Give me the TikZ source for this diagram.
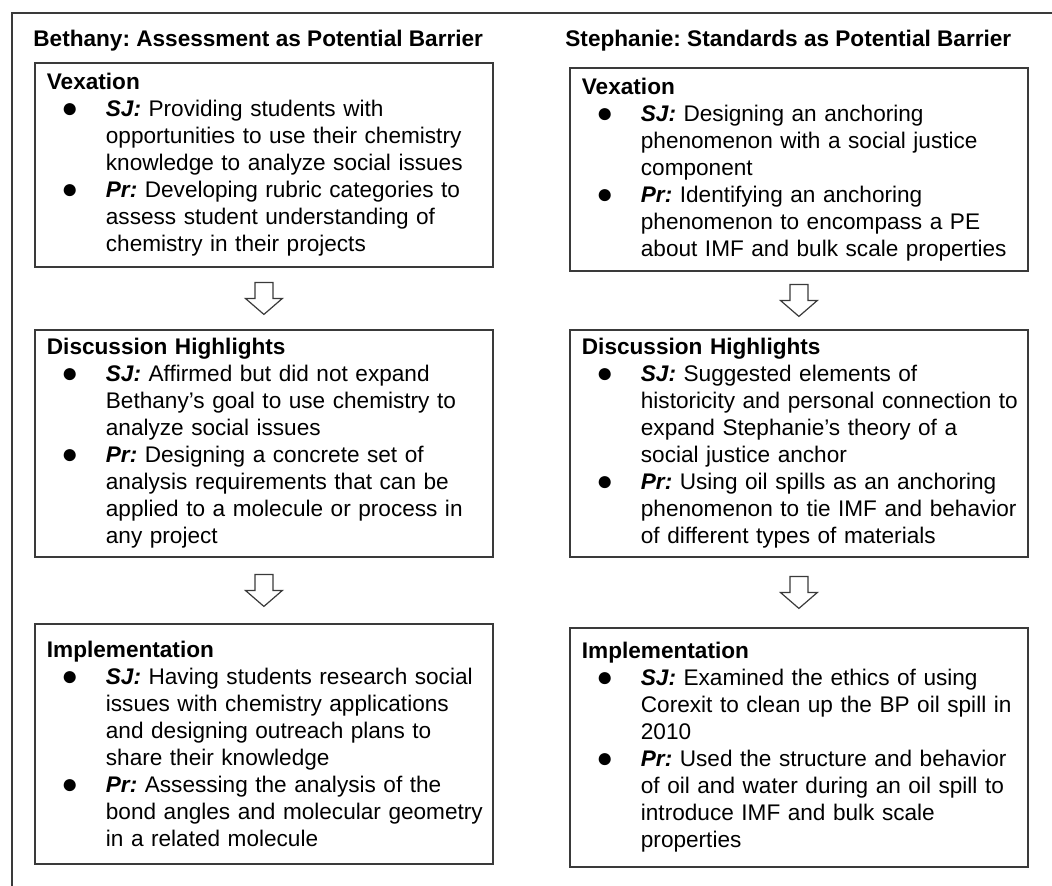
\documentclass[tikz,border=0pt]{standalone}
\usepackage{fontspec}
\setmainfont{Liberation Sans}
\usetikzlibrary{calc}

\definecolor{boxline}{HTML}{3A3A3A}
\frenchspacing

% bullet lists inside the stage boxes
\newcommand{\pointmark}{\raisebox{-0.4pt}{\fontsize{14pt}{14pt}\selectfont ●}}
\newcommand{\who}[1]{\textbf{\textit{#1:}}}
\newcommand{\stagehead}[1]{\textbf{#1}\par}
\newenvironment{points}{\begin{list}{\pointmark}{%
    \setlength{\leftmargin}{29.5pt}\setlength{\labelwidth}{29.5pt}%
    \setlength{\labelsep}{0pt}\setlength{\rightmargin}{-30pt}%
    \setlength{\topsep}{0pt}\setlength{\partopsep}{0pt}%
    \setlength{\itemsep}{0pt}\setlength{\parsep}{0pt}%
    \renewcommand{\makelabel}[1]{\hspace*{7.2pt}##1\hfil}}}{\end{list}}

\begin{document}
\begin{tikzpicture}[x=0.5pt, y=-0.5pt,
    stage/.style={draw=boxline, line width=0.9pt, anchor=north west, inner xsep=6pt, inner ysep=2pt,
      text width=217pt, minimum height=#1, font=\fontsize{11.3pt}{13.5pt}\selectfont},
    banner/.style={anchor=base west, inner sep=0pt, font=\fontsize{11.3pt}{13.5pt}\selectfont\bfseries},
    gaparrow/.pic={\draw[boxline, line width=0.6pt] (-4.5pt,8pt) -- (4.5pt,8pt) -- (4.5pt,0pt) -- (9.25pt,0pt)
      -- (0pt,-8pt) -- (-9.25pt,0pt) -- (-4.5pt,0pt) -- cycle;}]
  \useasboundingbox (0,0) rectangle (1052,885);
  \begin{scope}
    \clip (0,0) rectangle (1052,885);
    \draw[boxline, line width=1.4pt] (12,13) rectangle (1070,900);
  \end{scope}
  %
  \node[banner] (headL) at (33,46.5) {Bethany: Assessment as Potential Barrier};
  \node[banner] (headR) at (565,46.5) {Stephanie: Standards as Potential Barrier};
  %
  \node[stage=102pt] (vexL) at (34,62) {\stagehead{Vexation}\begin{points}
    \item \who{SJ} Providing students with\\ opportunities to use their chemistry\\ knowledge to analyze social issues
    \item \who{Pr} Developing rubric categories to\\ assess student understanding of\\ chemistry in their projects
  \end{points}};
  \node[stage=113.5pt] (talkL) at (34,329) {\stagehead{Discussion Highlights}\begin{points}
    \item \who{SJ} Affirmed but did not expand\\ Bethany’s goal to use chemistry to\\ analyze social issues
    \item \who{Pr} Designing a concrete set of\\ analysis requirements that can be\\ applied to a molecule or process in\\ any project
  \end{points}};
  \node[stage=120pt] (implL) at (34,623) {\stagehead{Implementation}\begin{points}
    \item \who{SJ} Having students research social\\ issues with chemistry applications\\ and designing outreach plans to\\ share their knowledge
    \item \who{Pr} Assessing the analysis of the\\ bond angles and molecular geometry\\ in a related molecule
  \end{points}};
  %
  \node[stage=101.5pt] (vexR) at (569,67) {\stagehead{Vexation}\begin{points}
    \item \who{SJ} Designing an anchoring\\ phenomenon with a social justice\\ component
    \item \who{Pr} Identifying an anchoring\\ phenomenon to encompass a PE\\ about IMF and bulk scale properties
  \end{points}};
  \node[stage=113.5pt] (talkR) at (569,329) {\stagehead{Discussion Highlights}\begin{points}
    \item \who{SJ} Suggested elements of\\ historicity and personal connection to\\ expand Stephanie’s theory of a\\ social justice anchor
    \item \who{Pr} Using oil spills as an anchoring\\ phenomenon to tie IMF and behavior\\ of different types of materials
  \end{points}};
  \node[stage=119.5pt] (implR) at (569,627) {\stagehead{Implementation}\begin{points}
    \item \who{SJ} Examined the ethics of using\\ Corexit to clean up the BP oil spill in\\ 2010
    \item \who{Pr} Used the structure and behavior\\ of oil and water during an oil spill to\\ introduce IMF and bulk scale\\ properties
  \end{points}};
  %
  \path ($(vexL.south)!0.5!(talkL.north)$) pic {gaparrow};
  \path ($(talkL.south)!0.5!(implL.north)$) pic {gaparrow};
  \path ($(vexR.south)!0.5!(talkR.north)$) pic {gaparrow};
  \path ($(talkR.south)!0.5!(implR.north)$) pic {gaparrow};
\end{tikzpicture}
\end{document}
